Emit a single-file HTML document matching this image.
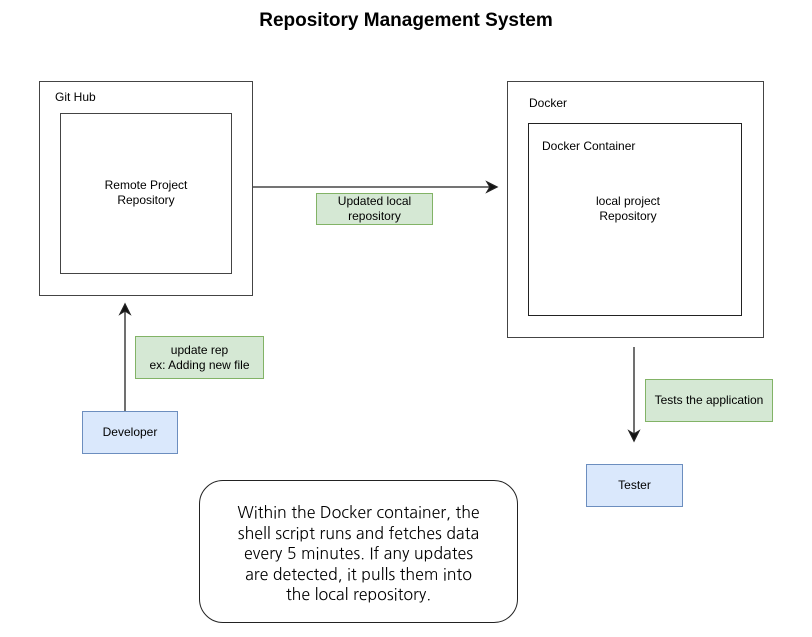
<!DOCTYPE html>
<html><head><meta charset="utf-8"><style>
body{margin:0;width:812px;height:637px;background:#fff;position:relative;font-family:"Liberation Sans",Arial,sans-serif;overflow:hidden}
.a{position:absolute;box-sizing:border-box}
.t{position:absolute;font-size:12px;color:#000;white-space:nowrap}
.c{display:flex;align-items:center;justify-content:center;text-align:center;font-size:12px;line-height:15px}
.g{background:#d5e8d4;border:1px solid #82b366}
.b{background:#dae8fc;border:1px solid #6c8ebf}
</style></head><body>
<div class="t" style="left:0;width:812px;top:10px;text-align:center;font-size:19px;font-weight:bold">Repository Management System</div>
<div class="a" style="left:39px;top:81px;width:214px;height:215px;border:1.5px solid #444"></div>
<div class="a" style="left:60px;top:113px;width:172px;height:161px;border:1.5px solid #444"></div>
<div class="t" style="left:55px;top:90px">Git Hub</div>
<div class="a c" style="left:60px;top:177px;width:172px;height:32px">Remote Project<br>Repository</div>
<div class="a" style="left:507px;top:81px;width:257px;height:257px;border:1.5px solid #444"></div>
<div class="a" style="left:528px;top:123px;width:214px;height:193px;border:1.5px solid #222"></div>
<div class="t" style="left:529px;top:96px">Docker</div>
<div class="t" style="left:542px;top:139px">Docker Container</div>
<div class="a c" style="left:558px;top:193px;width:140px;height:32px">local project<br>Repository</div>
<svg class="a" style="left:0;top:0" width="812" height="637">
<g stroke="#222" stroke-width="1.3" fill="#111">
<line x1="253" y1="187" x2="490" y2="187"/><polygon points="497,187 487,182 490,187 487,192"/>
<line x1="125" y1="411" x2="125" y2="311"/><polygon points="125,304 120,314 125,311 130,314"/>
<line x1="634" y1="347" x2="634" y2="434"/><polygon points="634,441 629,431 634,434 639,431"/>
</g></svg>
<div class="a c g" style="left:316px;top:193px;width:117px;height:32px">Updated local<br>repository</div>
<div class="a c g" style="left:135px;top:336px;width:129px;height:43px">update rep<br>ex: Adding new file</div>
<div class="a c b" style="left:82px;top:411px;width:96px;height:43px">Developer</div>
<div class="a c g" style="left:645px;top:379px;width:128px;height:43px">Tests the application</div>
<div class="a c b" style="left:586px;top:464px;width:97px;height:43px">Tester</div>
<div class="a c" style="left:199px;top:480px;width:319px;height:143px;padding-top:6px;border:1.3px solid #222;border-radius:24px;font-size:16px;line-height:20.5px;font-family:'NanumGothic','Liberation Sans',sans-serif">Within the Docker container, the<br>shell script runs and fetches data<br>every 5 minutes. If any updates<br>are detected, it pulls them into<br>the local repository.</div>
</body></html>
